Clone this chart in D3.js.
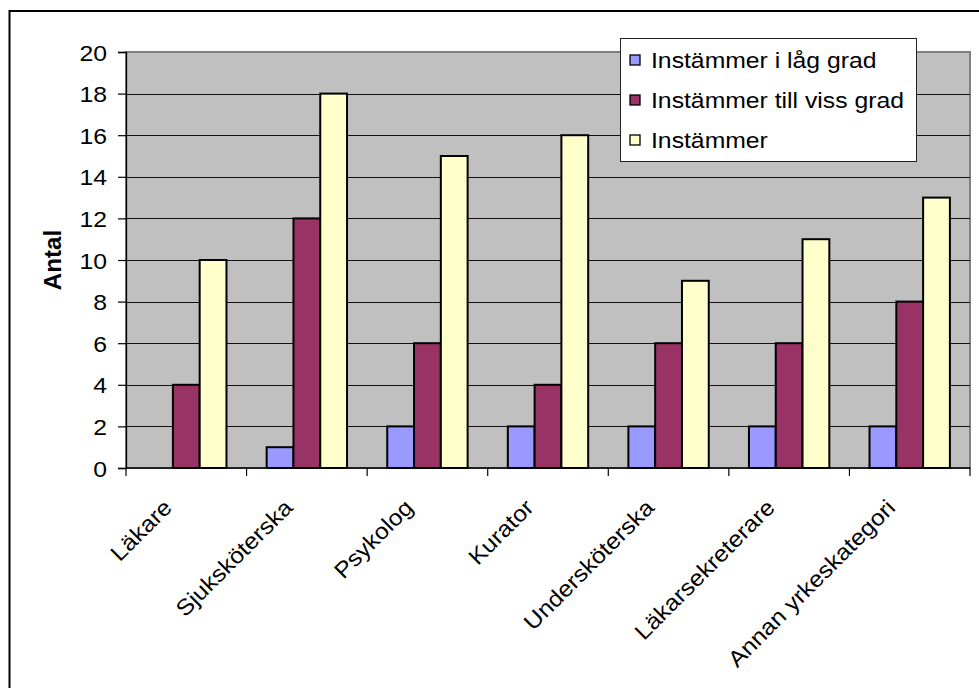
<!DOCTYPE html>
<html>
<head>
<meta charset="utf-8">
<script src="https://cdn.jsdelivr.net/npm/d3@7"></script>
<style>
  html, body { margin: 0; padding: 0; background: #fff; }
  svg { display: block; }
  text { font-family: "Liberation Sans", Arial, sans-serif; fill: #000; }
</style>
</head>
<body>
<svg id="chart" width="979" height="688"></svg>
<script>
// Yrkeskategorier och antal svar per svarsalternativ
const categories = ["Läkare", "Sjuksköterska", "Psykolog", "Kurator", "Undersköterska", "Läkarsekreterare", "Annan yrkeskategori"];
const seriesNames = ["Instämmer i låg grad", "Instämmer till viss grad", "Instämmer"];
const lagGrad = [0, 1, 2, 2, 2, 2, 2];
const vissGrad = [4, 12, 6, 4, 6, 6, 8];
const instammer = [10, 18, 15, 16, 9, 11, 13];
const yTicks = [0, 2, 4, 6, 8, 10, 12, 14, 16, 18, 20];
const colors = ["#9999FF", "#993366", "#FFFFCC"];

const seriesValues = [lagGrad, vissGrad, instammer];
const FS = 22.5;    // font size
const SX = 1.1;     // horizontal text widening

const svg = d3.select("#chart");

// chart frame
svg.append("rect")
  .attr("x", 9.5).attr("y", 11)
  .attr("width", 1000).attr("height", 700)
  .attr("fill", "#fff").attr("stroke", "#000").attr("stroke-width", 2);

const plot = { left: 126, right: 970, top: 52, bottom: 468 };

const x0 = d3.scaleBand().domain(categories).range([plot.left, plot.right]).paddingInner(0).paddingOuter(0);
// bars take 3 slots, gap of 1.5 bar widths split between both sides
const x1 = d3.scaleBand().domain(d3.range(3)).range([0, x0.bandwidth()]).paddingInner(0).paddingOuter(0.75);
const y = d3.scaleLinear().domain([0, 20]).range([plot.bottom, plot.top]);

// plot background
svg.append("rect")
  .attr("x", plot.left).attr("y", plot.top)
  .attr("width", plot.right - plot.left).attr("height", plot.bottom - plot.top)
  .attr("fill", "#C0C0C0").attr("stroke", "#808080").attr("stroke-width", 2);

// gridlines
svg.append("g")
  .selectAll("line")
  .data(yTicks.filter(t => t > 0 && t < 20))
  .join("line")
  .attr("x1", plot.left).attr("x2", plot.right)
  .attr("y1", d => Math.round(y(d)) + 0.5).attr("y2", d => Math.round(y(d)) + 0.5)
  .attr("stroke", "#111").attr("stroke-width", 1.2);

// bars
const groups = svg.append("g")
  .selectAll("g")
  .data(categories)
  .join("g")
  .attr("transform", d => `translate(${x0(d)},0)`);

groups.selectAll("rect")
  .data((c, i) => seriesValues.map((vals, s) => ({ s, v: vals[i] })).filter(d => d.v > 0))
  .join("rect")
  .attr("x", d => x1(d.s))
  .attr("y", d => y(d.v))
  .attr("width", x1.bandwidth())
  .attr("height", d => y(0) - y(d.v))
  .attr("fill", d => colors[d.s])
  .attr("stroke", "#000")
  .attr("stroke-width", 2);

// y axis
const yAxis = d3.axisLeft(y).tickValues(yTicks).tickSize(8).tickPadding(0);
const gy = svg.append("g").attr("transform", `translate(${plot.left},0)`).call(yAxis);
gy.select(".domain").attr("stroke", "#000").attr("stroke-width", 1.3);
gy.selectAll(".tick line").attr("stroke", "#000").attr("stroke-width", 1.2);
gy.selectAll(".tick text").remove();
gy.selectAll(".tick").append("text")
  .attr("transform", `translate(-19,0) scale(${SX},1)`)
  .attr("text-anchor", "end")
  .attr("dy", "0.36em")
  .style("font-size", FS + "px")
  .text(d => d);

// x axis with ticks at category boundaries
const xEdges = categories.map(c => x0(c)).concat([plot.right]);
const gx = svg.append("g");
gx.append("line")
  .attr("x1", plot.left).attr("x2", plot.right)
  .attr("y1", plot.bottom).attr("y2", plot.bottom)
  .attr("stroke", "#000").attr("stroke-width", 1.3);
gx.selectAll("line.tk")
  .data(xEdges)
  .join("line")
  .attr("class", "tk")
  .attr("x1", d => d).attr("x2", d => d)
  .attr("y1", plot.bottom).attr("y2", plot.bottom + 8)
  .attr("stroke", "#000").attr("stroke-width", 1.2);

gx.selectAll("text")
  .data(categories)
  .join("text")
  .attr("transform", d => `translate(${x0(d) + x0.bandwidth() / 2 - 13},${plot.bottom + 41}) rotate(-45) scale(${SX},1)`)
  .attr("text-anchor", "end")
  .style("font-size", FS + "px")
  .text(d => d);

// y axis title
svg.append("text")
  .attr("transform", `translate(61,${(plot.top + plot.bottom) / 2}) rotate(-90) scale(1.05,1)`)
  .attr("text-anchor", "middle")
  .style("font-size", "23px")
  .style("font-weight", "bold")
  .text("Antal");

// legend
const legend = svg.append("g").attr("transform", "translate(620,38)");
legend.append("rect")
  .attr("x", 0.5).attr("y", 0.5)
  .attr("width", 296).attr("height", 123)
  .attr("fill", "#fff").attr("stroke", "#222").attr("stroke-width", 1);

const items = legend.selectAll("g")
  .data(seriesNames)
  .join("g")
  .attr("transform", (d, i) => `translate(0,${22 + i * 40})`);
items.append("rect")
  .attr("x", 10).attr("y", -5)
  .attr("width", 10).attr("height", 10)
  .attr("fill", (d, i) => colors[i])
  .attr("stroke", "#000").attr("stroke-width", 1.3);
items.append("text")
  .attr("transform", `translate(31,0) scale(${SX},1)`)
  .attr("dy", "0.36em")
  .style("font-size", FS + "px")
  .text(d => d);
</script>
</body>
</html>
